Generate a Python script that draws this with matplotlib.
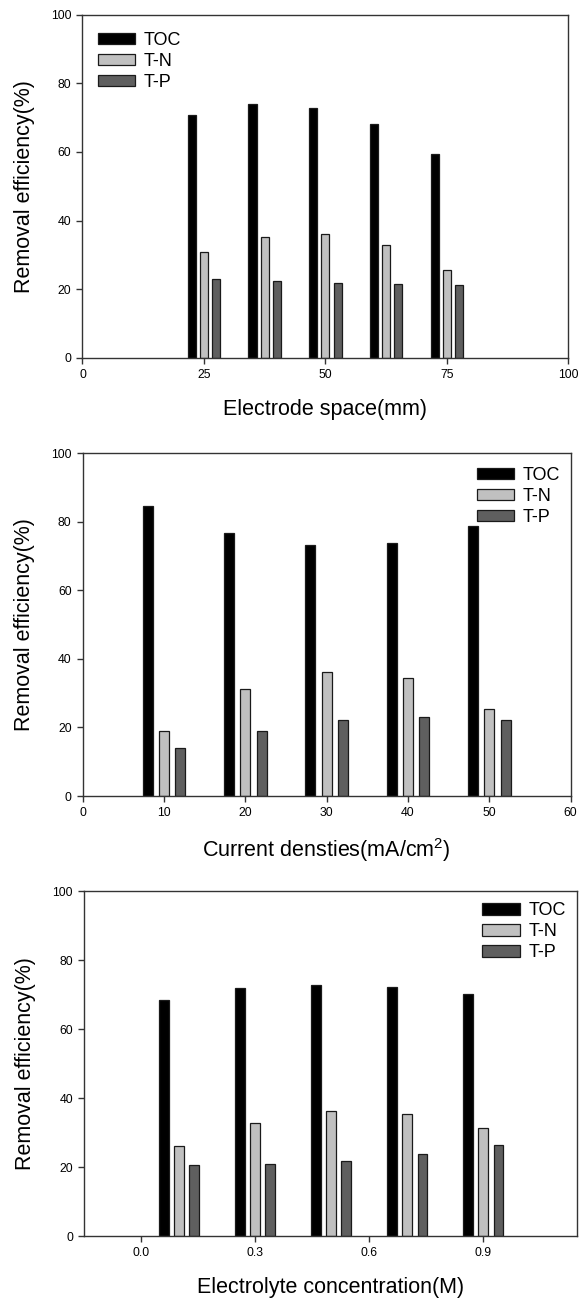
import matplotlib
matplotlib.use('Agg')
import matplotlib.pyplot as mp
import numpy as np

mp.rcParams['font.family'] = ['Liberation Sans', 'DejaVu Sans']
mp.rcParams['mathtext.fontset'] = 'custom'
mp.rcParams['mathtext.rm'] = 'Liberation Sans'
mp.rcParams['mathtext.it'] = 'Liberation Sans'

series = ['TOC', 'T-N', 'T-P']
colours = ['#000000', '#c0c0c0', '#5f5f5f']

# electrode spacing (mm)
space_x = [25, 37.5, 50, 62.5, 75]
space_toc = [70.8, 73.9, 72.9, 68.2, 59.4]
space_tn = [30.7, 35.2, 36.2, 32.8, 25.7]
space_tp = [23.0, 22.5, 21.8, 21.5, 21.1]

# current density (mA/cm2)
current_x = [10, 20, 30, 40, 50]
current_toc = [84.6, 76.9, 73.2, 73.7, 78.8]
current_tn = [19.1, 31.1, 36.2, 34.3, 25.4]
current_tp = [14.0, 19.1, 22.1, 23.0, 22.1]

# electrolyte concentration (M)
conc_x = [0.1, 0.3, 0.5, 0.7, 0.9]
conc_toc = [68.4, 71.9, 72.9, 72.3, 70.3]
conc_tn = [26.1, 32.8, 36.2, 35.5, 31.5]
conc_tp = [20.7, 21.0, 21.8, 23.7, 26.4]

y_ticks = [0, 20, 40, 60, 80, 100]


def bar_panel(ax, x, groups, step, width, xlim, xticks, xtick_lbls, xlabel,
              leg_anchor, xlabel_y):
    x = np.asarray(x, dtype=float)
    for k, vals in enumerate(groups):
        ax.bar(x + (k - 1) * step, vals, width=width, color=colours[k],
               edgecolor='#1a1a1a', linewidth=0.9, label=series[k], zorder=2)
    ax.set_xlim(*xlim)
    ax.set_ylim(0, 100)
    ax.set_yticks(y_ticks)
    ax.set_xticks(xticks)
    ax.set_xticklabels(xtick_lbls)
    for sp in ax.spines.values():
        sp.set_color('#333333')
        sp.set_linewidth(1.0)
    ax.tick_params(direction='out', length=4, width=1, color='#333333',
                   labelsize=8.8, pad=4)
    ax.set_ylabel('Removal efficiency(%)', fontsize=15.5)
    ax.yaxis.set_label_coords(-0.098, 0.5)
    ax.set_xlabel(xlabel, fontsize=15.5, va='center')
    ax.xaxis.set_label_coords(0.5, xlabel_y)
    ax.legend(loc='upper left', bbox_to_anchor=leg_anchor, frameon=False,
              fontsize=13, handlelength=2.1, handleheight=0.6,
              handletextpad=0.45, labelspacing=0.22, borderpad=0,
              borderaxespad=0)


fig = mp.figure(figsize=(5.87, 12.99), dpi=100)
ax1 = fig.add_axes([0.1405, 0.7246, 0.8276, 0.2640])
ax2 = fig.add_axes([0.1409, 0.3872, 0.8313, 0.2638])
ax3 = fig.add_axes([0.1431, 0.0483, 0.8404, 0.2656])

bar_panel(ax1, space_x, [space_toc, space_tn, space_tp], 2.5, 1.65,
          (0, 100), [0, 25, 50, 75, 100], ['0', '25', '50', '75', '100'],
          'Electrode space(mm)', (0.031, 0.95), -0.150)
bar_panel(ax2, current_x, [current_toc, current_tn, current_tp], 2.0, 1.23,
          (0, 60), [0, 10, 20, 30, 40, 50, 60],
          ['0', '10', '20', '30', '40', '50', '60'],
          'Current densties(mA/cm$^2$)', (0.807, 0.96), -0.158)
bar_panel(ax3, conc_x, [conc_toc, conc_tn, conc_tp], 0.04, 0.025,
          (-0.15, 1.148), [0.0, 0.3, 0.6, 0.9], ['0.0', '0.3', '0.6', '0.9'],
          'Electrolyte concentration(M)', (0.807, 0.968), -0.148)

fig.savefig('out.png', dpi=100)
